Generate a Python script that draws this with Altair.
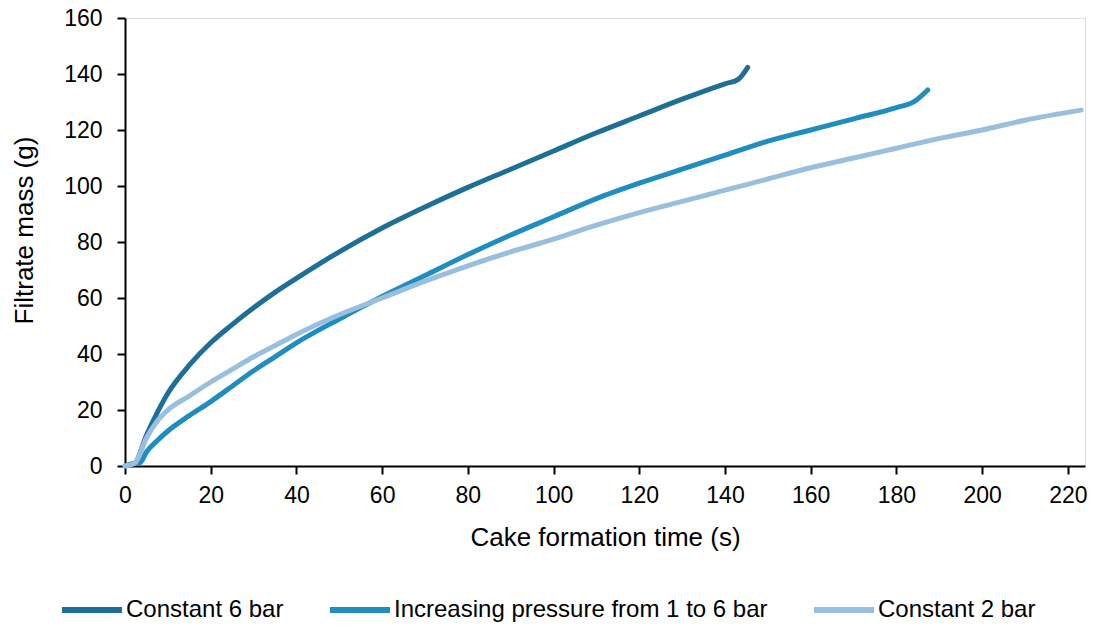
import altair as alt
import pandas as pd

# Constant 6 bar
t6 = [0, 2.3, 5, 7.5, 10, 15, 20, 25, 30, 35, 40, 50, 60, 70, 80, 90, 100, 110, 120, 130, 140, 143, 145.3]
m6 = [0, 1, 11, 19, 26, 36, 44, 50.5, 56.5, 62, 67, 76.5, 85, 92.5, 99.5, 106, 112.5, 119, 125, 131, 136.5, 138, 142.4]

# Increasing pressure from 1 to 6 bar
ti = [0, 2.3, 3.5, 5, 7.5, 10, 15, 20, 25, 30, 35, 40, 50, 60, 70, 80, 90, 100, 110, 120, 130, 140, 150, 160, 170, 180, 184.1, 187.3]
mi = [0, 1, 1.2, 5, 9, 12.5, 18, 23, 28.5, 34, 39, 44, 52.5, 60.5, 68, 75.5, 82.5, 89, 95.5, 101, 106, 111, 116, 120, 124, 128, 130.1, 134.3]

# Constant 2 bar
t2 = [0, 2.3, 5, 7.5, 10, 15, 20, 25, 30, 35, 40, 50, 60, 70, 80, 90, 100, 110, 120, 130, 140, 150, 160, 170, 180, 190, 200, 210, 223.1]
m2 = [0, 1, 10, 16, 20, 25, 30, 34.5, 39, 43, 47, 54, 60, 66, 71.5, 76.5, 81, 86, 90.5, 94.5, 98.5, 102.5, 106.5, 110, 113.5, 117, 120, 123.5, 127.1]

series_names = ["Constant 6 bar", "Increasing pressure from 1 to 6 bar", "Constant 2 bar"]
series_colors = ["#1d6f98", "#1f8dc0", "#98bfdd"]
x_ticks = [0, 20, 40, 60, 80, 100, 120, 140, 160, 180, 200, 220]
y_ticks = [0, 20, 40, 60, 80, 100, 120, 140, 160]

frames = []
for name, ts, ms in zip(series_names, [t6, ti, t2], [m6, mi, m2]):
    frames.append(pd.DataFrame({"t": ts, "m": ms, "series": name}))
df = pd.concat(frames, ignore_index=True)

FONT = "Liberation Sans"

chart = alt.Chart(df).mark_line(strokeWidth=5, strokeCap="round", strokeJoin="round",
                                interpolate="monotone").encode(
    x=alt.X("t:Q",
            scale=alt.Scale(domain=[0, 224], nice=False, zero=True),
            axis=alt.Axis(title="Cake formation time (s)", values=x_ticks, grid=False,
                          domainColor="black", domainWidth=2, tickColor="black", tickWidth=2,
                          tickSize=8, labelFontSize=23, labelFont=FONT, labelColor="black",
                          labelPadding=10, labelFlush=False, titleFontSize=26, titleFont=FONT,
                          titleColor="black", titleFontWeight="normal", titlePadding=17)),
    y=alt.Y("m:Q",
            scale=alt.Scale(domain=[0, 160], nice=False),
            axis=alt.Axis(title="Filtrate mass (g)", values=y_ticks, grid=False,
                          domainColor="black", domainWidth=2, tickColor="black", tickWidth=2,
                          tickSize=8, labelFontSize=23, labelFont=FONT, labelColor="black",
                          labelPadding=15, labelFlush=False, titleFontSize=26, titleFont=FONT,
                          titleColor="black", titleFontWeight="normal", titleX=-101, titleY=212,
                          titleBaseline="middle", titleAlign="center")),
    color=alt.Color("series:N",
                    scale=alt.Scale(domain=series_names, range=series_colors),
                    legend=alt.Legend(title=None, orient="none", legendX=-66, legendY=559,
                                      direction="horizontal", columns=3, symbolType="stroke",
                                      symbolSize=3600, symbolStrokeWidth=6, labelFontSize=24,
                                      labelFont=FONT, labelColor="black", labelOffset=1,
                                      columnPadding=34, padding=0, labelLimit=600)),
    order=alt.Order("t:Q"),
).properties(
    width=960, height=448,
    autosize=alt.AutoSizeParams(type="none"),
    padding={"left": 125, "top": 18, "right": 18, "bottom": 159},
).configure_view(stroke=None).configure(background="white")

chart.save("out.html", embed_options={"renderer": "svg", "actions": False})
